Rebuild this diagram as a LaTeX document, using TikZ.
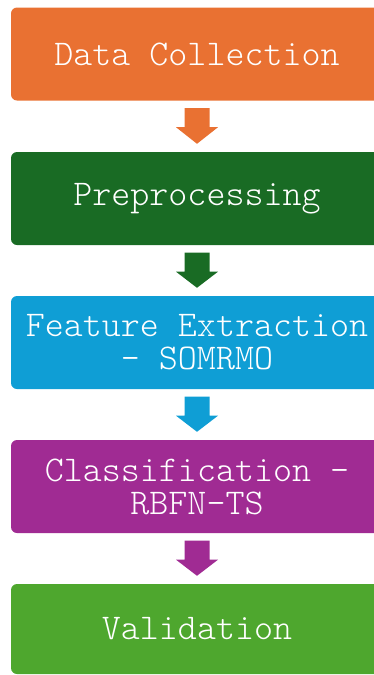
\documentclass[tikz,border=0pt]{standalone}
\usepackage{fontspec}
\setmonofont{Latin Modern Mono Light}
\usetikzlibrary{calc}
\definecolor{cOrange}{HTML}{E97132}
\definecolor{cDkGreen}{HTML}{196B24}
\definecolor{cBlue}{HTML}{0F9ED5}
\definecolor{cPurple}{HTML}{A02B93}
\definecolor{cGreen}{HTML}{4EA72E}
\tikzset{
  stepbox/.style={rounded corners=6pt, minimum width=372pt, minimum height=93pt,
    inner sep=0pt, text=white, align=center,
    font=\ttfamily\fontsize{36.2}{33}\selectfont}
}
\newcommand\blkarrow[3]{%
  \fill[#3] ($(#1.south)+(-12.5,7.5)$) -- ($(#1.south)+(12.5,7.5)$)
    -- ($(#1.south)+(12.5,26.5)$) -- ($(#1.south)+(21,26.5)$)
    -- ($(#2.north)+(0,-8)$) -- ($(#1.south)+(-21,26.5)$)
    -- ($(#1.south)+(-12.5,26.5)$) -- cycle;}
\begin{document}
\begin{tikzpicture}[x=1pt,y=-1pt]
\useasboundingbox (0,0) rectangle (374,675);
\clip (0,0) rectangle (374,675);
\node[stepbox, fill=cOrange] (b1) at (197,54) {Data Collection};
\node[stepbox, fill=cDkGreen] (b2) at (197,198.5) {Preprocessing};
\node[stepbox, fill=cBlue] (b3) at (197,342.5) {Feature Extraction\\- SOMRMO};
\node[stepbox, fill=cPurple] (b4) at (197,486.5) {Classification -\\RBFN-TS};
\node[stepbox, fill=cGreen, minimum height=90pt] (b5) at (197,629) {Validation};
\blkarrow{b1}{b2}{cOrange}
\blkarrow{b2}{b3}{cDkGreen}
\blkarrow{b3}{b4}{cBlue}
\blkarrow{b4}{b5}{cPurple}
\end{tikzpicture}
\end{document}
